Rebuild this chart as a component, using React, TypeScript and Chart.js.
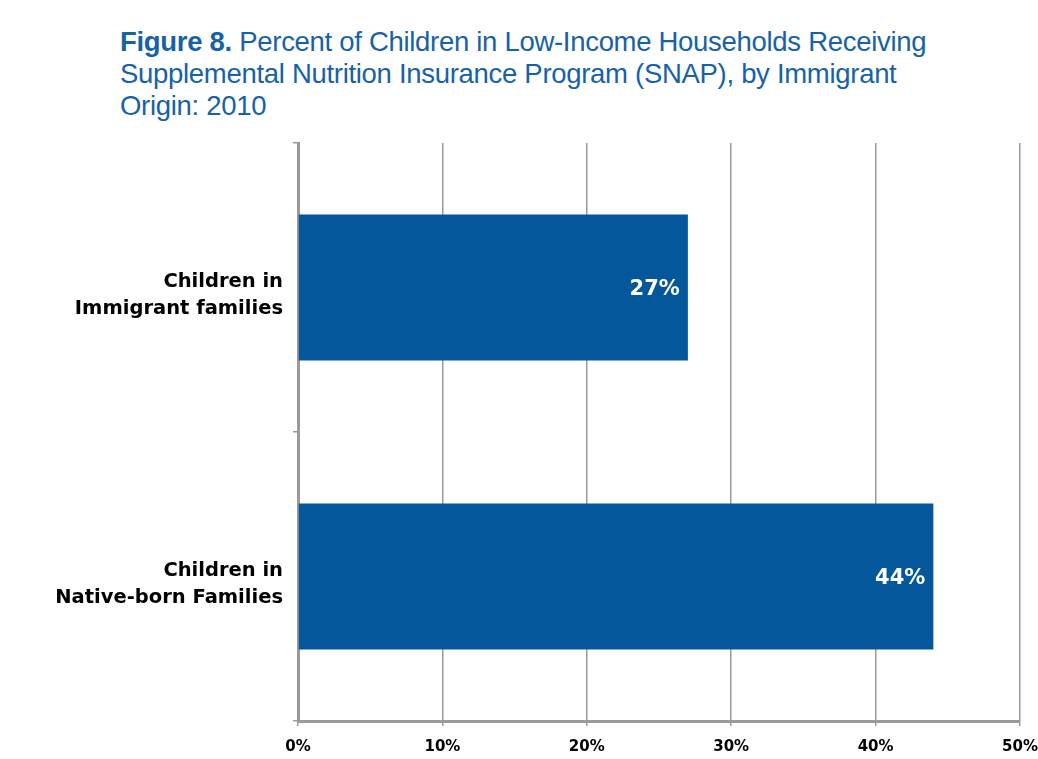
import React, { useEffect, useRef } from "react";
import { Chart, registerables } from "chart.js";

Chart.register(...registerables);

const categories: string[][] = [
  ["Children in", "Immigrant families"],
  ["Children in", "Native-born Families"],
];
const values: number[] = [27, 44];
const valueLabels: string[] = ["27%", "44%"];
const xTicks: number[] = [0, 10, 20, 30, 40, 50];

const BLUE = "#04579a";
const GRID = "#9a9a9a";
const FONT = "'Liberation Sans', Arial, sans-serif";
const BFONT = "'DejaVu Sans', 'Liberation Sans', sans-serif";

const labelPlugin = {
  id: "barLabels",
  afterDatasetsDraw(chart: any) {
    const ctx = chart.ctx;
    const meta = chart.getDatasetMeta(0);
    ctx.save();
    ctx.fillStyle = "#ffffff";
    ctx.font = `bold 21px ${BFONT}`;
    ctx.textAlign = "right";
    ctx.textBaseline = "middle";
    meta.data.forEach((el: any, i: number) => {
      ctx.fillText(valueLabels[i], el.x - 8, el.y + 2);
    });
    ctx.restore();
  },
};

export default function App() {
  const ref = useRef<HTMLCanvasElement | null>(null);

  useEffect(() => {
    document.body.style.margin = "0";
    if (!ref.current) return;
    const chart = new Chart(ref.current, {
      type: "bar",
      data: {
        labels: categories,
        datasets: [
          {
            data: values,
            backgroundColor: BLUE,
            borderWidth: 0,
            categoryPercentage: 1,
            barPercentage: 0.505,
          },
        ],
      },
      options: {
        indexAxis: "y",
        animation: false,
        responsive: false,
        maintainAspectRatio: false,
        layout: { padding: { top: 143, right: 18, bottom: 0, left: 0 } },
        plugins: {
          legend: { display: false },
          tooltip: { enabled: false },
          title: { display: false },
        },
        scales: {
          x: {
            min: 0,
            max: 50,
            afterBuildTicks: (scale: any) => {
              scale.ticks = xTicks.map((v) => ({ value: v }));
            },
            afterFit: (scale: any) => {
              scale.height = 38;
              scale.paddingRight = 0;
              scale.paddingLeft = 0;
            },
            grid: {
              color: GRID,
              lineWidth: 1.5,
              drawTicks: true,
              tickLength: 5,
            },
            border: { display: true, color: GRID, width: 3 },
            ticks: {
              padding: 12,
              color: "#000",
              font: { family: BFONT, size: 15, weight: "bold" },
              callback: (v: any) => `${v}%`,
            },
          },
          y: {
            afterFit: (scale: any) => {
              scale.width = 298;
            },
            grid: {
              drawOnChartArea: false,
              drawTicks: true,
              tickLength: 5,
              color: GRID,
              lineWidth: 1.5,
              offset: true,
            },
            border: { display: true, color: GRID, width: 3 },
            ticks: {
              padding: 10,
              labelOffset: 8,
              color: "#000",
              font: { family: BFONT, size: 19.5, weight: "bold", lineHeight: 1.4 },
            },
          },
        },
      },
      plugins: [labelPlugin],
    });
    return () => chart.destroy();
  }, []);

  return (
    <div style={{ position: "relative", width: 1038, height: 759, background: "#fff", overflow: "hidden" }}>
      <div
        style={{
          position: "absolute",
          left: 120,
          top: 26,
          width: 900,
          color: "#1762a6",
          fontFamily: FONT,
          fontSize: 27.5,
          lineHeight: "32px",
          letterSpacing: "-0.3px",
        }}
      >
        <span style={{ fontWeight: "bold" }}>Figure 8.</span>
        {"  "}Percent of Children in Low-Income Households Receiving
        <br />
        Supplemental Nutrition Insurance Program (SNAP), by Immigrant
        <br />
        Origin: 2010
      </div>
      <canvas
        ref={ref}
        width={1038}
        height={759}
        style={{ position: "absolute", left: 0, top: 0, width: 1038, height: 759 }}
      />
    </div>
  );
}
